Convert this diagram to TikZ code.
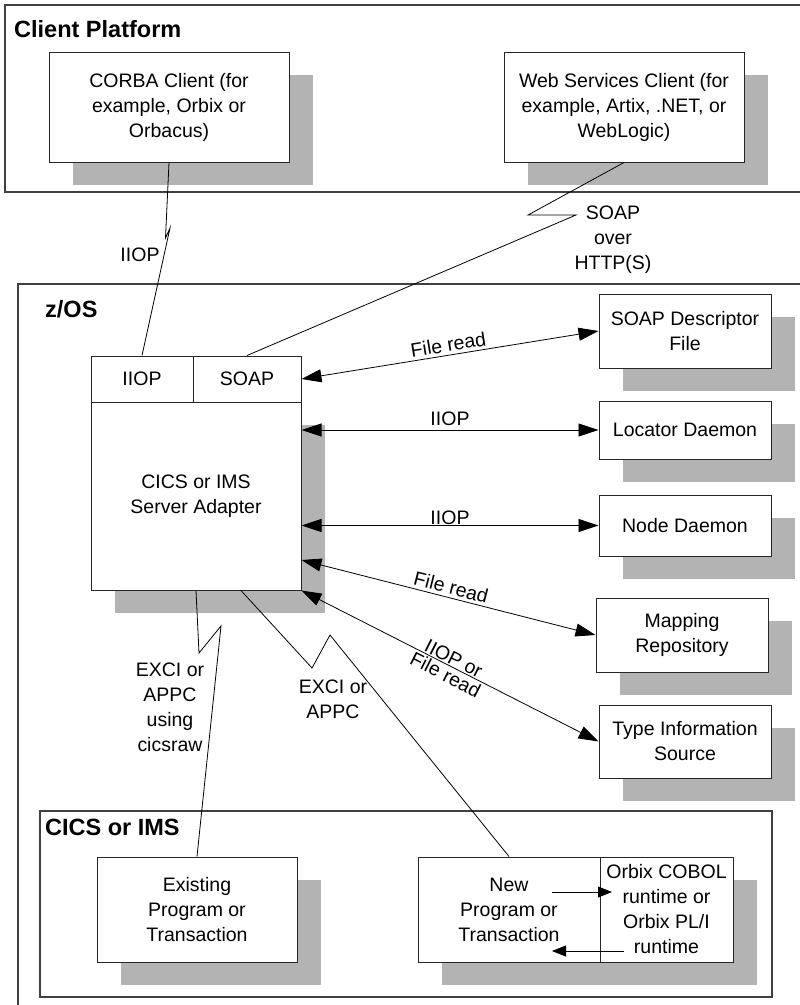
\documentclass[tikz,border=0pt]{standalone}
\usepackage{fontspec}
\setmainfont{Liberation Sans}
\usetikzlibrary{arrows.meta,shadows,calc}
\definecolor{shgray}{RGB}{179,179,179}
\begin{document}
\begin{tikzpicture}[x=1pt,y=-1pt,
  every node/.style={font=\fontsize{19.5}{25}\selectfont, inner sep=0pt, align=center},
  container/.style={draw=black!75, line width=1.1pt},
  title/.style={font=\fontsize{23.5}{28}\selectfont\bfseries, anchor=base west},
  box/.style={draw=black!85, line width=1pt, fill=white},
  shbox/.style={box, drop shadow={shadow xshift=24pt, shadow yshift=-23pt, fill=shgray, opacity=1}},
  conn/.style={draw=black, line width=0.8pt},
  dbl/.style={conn, {Triangle[length=20pt,width=13pt]}-{Triangle[length=20pt,width=13pt]}},
  smallarrow/.style={conn, -{Triangle[length=14pt,width=11pt]}}
]
\clip (0,0) rectangle (800,1005);

% containers
\draw[container] (5,5) rectangle (830,192);
\node[title] (cptitle) at (14,37) {Client Platform};
\draw[container] (18,284) rectangle (830,1030);
\node[title] (zostitle) at (45,317) {z/OS};
\draw[container] (40,811) rectangle (772,997);
\node[title] (cicstitle) at (45,835) {CICS or IMS};

% client boxes
\node[shbox, minimum width=240pt, minimum height=110pt] (corba) at (169,107) {CORBA Client (for\\example, Orbix or\\Orbacus)};
\node[shbox, minimum width=240pt, minimum height=110pt] (wsc) at (624,107) {Web Services Client (for\\example, Artix, .NET, or\\WebLogic)};

% adapter
\node[shbox, minimum width=210pt, minimum height=188pt] (adapter) at (196,496) {CICS or IMS\\Server Adapter};
\node[box, minimum width=102pt, minimum height=46pt] (iiophdr) at (142,379) {IIOP};
\node[box, minimum width=108pt, minimum height=46pt] (soaphdr) at (247,379) {SOAP};

% right boxes
\node[shbox, minimum width=172pt, minimum height=74pt] (soapdesc) at (685,331) {SOAP Descriptor\\File};
\node[shbox, minimum width=172pt, minimum height=58pt] (locator) at (685,430) {Locator Daemon};
\node[shbox, minimum width=172pt, minimum height=61pt] (nodedaemon) at (685,525.5) {Node Daemon};
\node[shbox, minimum width=172pt, minimum height=74pt] (mapping) at (682,635) {Mapping\\Repository};
\node[shbox, minimum width=172pt, minimum height=73pt] (typeinfo) at (685,741.5) {Type Information\\Source};

% CICS boxes
\node[shbox, minimum width=200pt, minimum height=105pt] (existing) at (197,909.5) {Existing\\Program or\\Transaction};
\node[shbox, minimum width=315pt, minimum height=105pt] (newbox) at (575.5,909.5) {};
\node[box, minimum width=182pt, minimum height=105pt] (newprog) at (509,909.5) {New\\Program or\\Transaction};
\node[box, minimum width=133pt, minimum height=105pt] (runtime) at (666.5,909.5) {Orbix COBOL\\runtime or\\Orbix PL/I\\runtime};

% labels of lightning connectors
\node (iioplbl) at (140,255) {IIOP};
\node (soaplbl) at (613,240) {SOAP\\over\\HTTP(S)};
\node (excilbl1) at (170,707) {EXCI or\\APPC\\using\\cicsraw};
\node (excilbl2) at (333,699) {EXCI or\\APPC};

% lightning connectors
\draw[conn] (corba.south) -- (165.5,238) -- (170,228) -- (iiophdr.north);
\draw[conn] (wsc.south) -- (528,215) -- (576,215) -- (soaphdr.north);
\draw[conn] (adapter.south) -- (199,653) -- (221,626) -- (existing.north);
\draw[conn] ([xshift=45pt]adapter.south) -- (312,668) -- (330,635) -- (newprog.north);

% double arrows
\draw[dbl] (soaphdr.east) -- node[above, sloped, inner sep=3pt] {File read} (soapdesc.west);
\draw[dbl] (adapter.east |- locator.west) -- node[above, inner sep=4pt] {IIOP} (locator.west);
\draw[dbl] (adapter.east |- nodedaemon.west) -- node[above, inner sep=0pt] {IIOP} (nodedaemon.west);
\draw[dbl] ([yshift=-64pt]adapter.east) -- node[above, sloped, inner sep=3pt] {File read} (mapping.west);
\draw[dbl] (adapter.south east) -- node[above, sloped, inner sep=1pt] {IIOP or} node[below, sloped, inner sep=2pt] {File read} (typeinfo.west);

% inner arrows
\coordinate (ra) at (552,892);
\coordinate (rb) at (612,892);
\coordinate (la) at (624,951);
\coordinate (lb) at (552,951);
\draw[smallarrow] (ra) -- (rb);
\draw[smallarrow] (la) -- (lb);
\end{tikzpicture}
\end{document}
